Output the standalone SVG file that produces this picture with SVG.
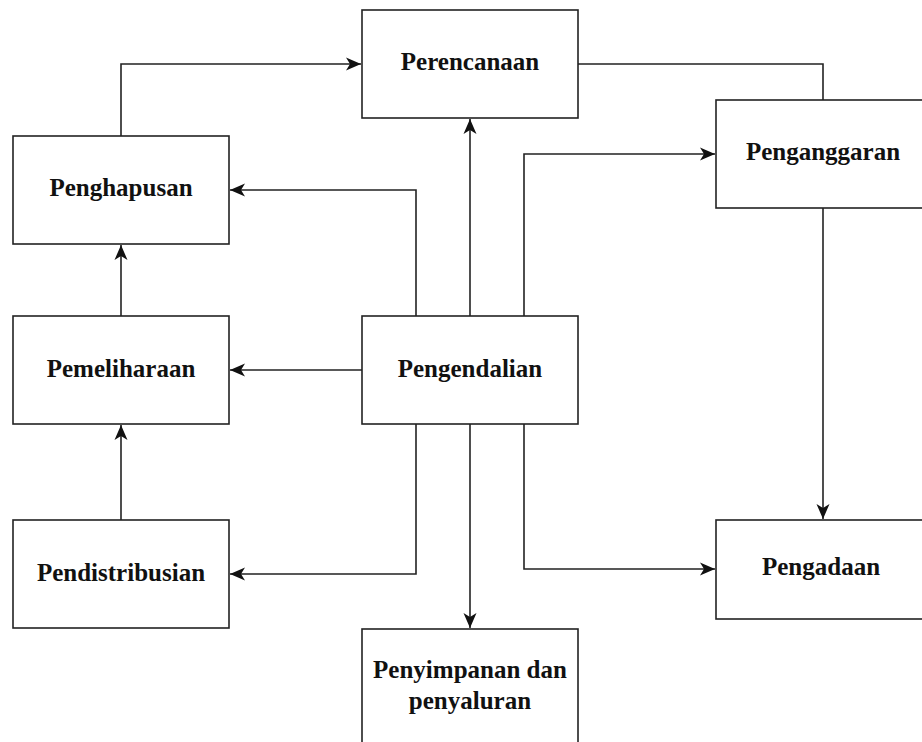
<svg xmlns="http://www.w3.org/2000/svg" width="922" height="742" viewBox="0 0 922 742">
<style>
.box{fill:#fff;stroke:#222;stroke-width:1.6}
.lbl{font-family:"Liberation Serif","Times New Roman",serif;font-weight:bold;font-size:25px;fill:#111;text-anchor:middle}
.edge{fill:none;stroke:#222;stroke-width:1.6}
</style>
<defs>
<marker id="arr" markerUnits="userSpaceOnUse" markerWidth="16" markerHeight="14" viewBox="0 0 16 14" refX="15" refY="7" orient="auto">
<path d="M15,7 L0,0.5 L4,7 L0,13.5 Z" fill="#111"/>
</marker>
</defs>
<rect width="922" height="742" fill="#fff"/>
<g id="connectors">
<polyline class="edge" points="121,136 121,64 361,64" marker-end="url(#arr)"/>
<polyline class="edge" points="578,64 823,64 823,100"/>
<polyline class="edge" points="823,208 823,519" marker-end="url(#arr)"/>
<polyline class="edge" points="470,316 470,119" marker-end="url(#arr)"/>
<polyline class="edge" points="524,316 524,154 715,154" marker-end="url(#arr)"/>
<polyline class="edge" points="416,316 416,190 230,190" marker-end="url(#arr)"/>
<polyline class="edge" points="362,370 230,370" marker-end="url(#arr)"/>
<polyline class="edge" points="416,424 416,574 230,574" marker-end="url(#arr)"/>
<polyline class="edge" points="470,424 470,628" marker-end="url(#arr)"/>
<polyline class="edge" points="524,424 524,569 715,569" marker-end="url(#arr)"/>
<polyline class="edge" points="121,316 121,245" marker-end="url(#arr)"/>
<polyline class="edge" points="121,520 121,425" marker-end="url(#arr)"/>
</g>
<g id="perencanaan"><rect class="box" x="362" y="10" width="216" height="108"/><text class="lbl" x="470" y="70">Perencanaan</text></g>
<g id="penganggaran"><rect class="box" x="716" y="100" width="216" height="108"/><text class="lbl" x="823" y="160">Penganggaran</text></g>
<g id="penghapusan"><rect class="box" x="13" y="136" width="216" height="108"/><text class="lbl" x="121" y="196">Penghapusan</text></g>
<g id="pemeliharaan"><rect class="box" x="13" y="316" width="216" height="108"/><text class="lbl" x="121" y="377">Pemeliharaan</text></g>
<g id="pengendalian"><rect class="box" x="362" y="316" width="216" height="108"/><text class="lbl" x="470" y="377">Pengendalian</text></g>
<g id="pendistribusian"><rect class="box" x="13" y="520" width="216" height="108"/><text class="lbl" x="121" y="581">Pendistribusian</text></g>
<g id="pengadaan"><rect class="box" x="716" y="520" width="216" height="99"/><text class="lbl" x="821" y="575">Pengadaan</text></g>
<g id="penyimpanan"><rect class="box" x="362" y="629" width="216" height="130"/><text class="lbl" x="470" y="678">Penyimpanan dan</text><text class="lbl" x="470" y="709">penyaluran</text></g>
</svg>
